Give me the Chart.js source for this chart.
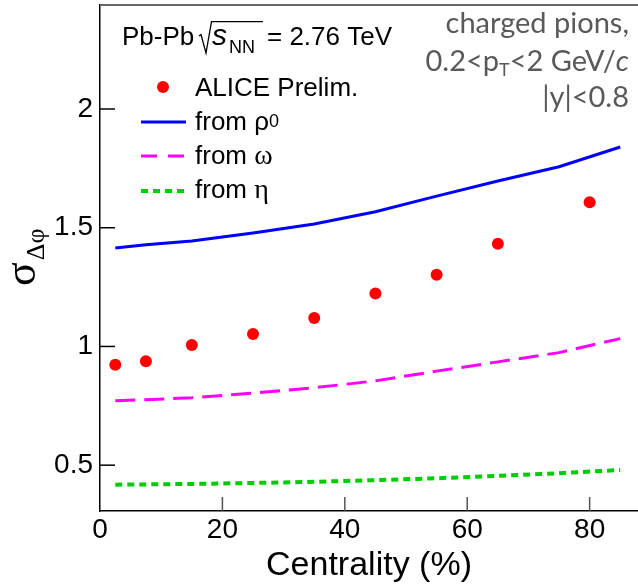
<!DOCTYPE html>
<html>
<head>
<meta charset="utf-8">
<script src="https://cdn.jsdelivr.net/npm/chart.js@4/dist/chart.umd.min.js"></script>
<style>
html,body{margin:0;padding:0;background:#fff}
</style>
</head>
<body>
<canvas id="c" width="638" height="586"></canvas>
<script>
// data
const centrality = [2.5, 7.5, 15, 25, 35, 45, 55, 65, 80];
const alicePrelim = [0.923, 0.938, 1.006, 1.052, 1.12, 1.223, 1.302, 1.433, 1.607];

const modelCent = [2.5, 7.5, 15, 25, 35, 45, 55, 65, 75, 85];
const fromRho = [1.415, 1.428, 1.444, 1.478, 1.516, 1.567, 1.633, 1.697, 1.757, 1.84];
const fromOmega = [0.771, 0.776, 0.784, 0.804, 0.826, 0.855, 0.896, 0.935, 0.974, 1.033];
const fromEta = [0.418, 0.419, 0.421, 0.425, 0.43, 0.437, 0.445, 0.455, 0.466, 0.48];

const xTicks = [0, 20, 40, 60, 80];
const yTicks = [0.5, 1, 1.5, 2];

const SANS = '"Liberation Sans", Arial, Helvetica, sans-serif';
const SERIF = '"Liberation Serif", "Times New Roman", serif';
const NOTE = 'Lato, "Open Sans", sans-serif';

function pts(xs, ys){
  return xs.map((x,i) => ({x:x, y:ys[i]}));
}

// draw a row of text pieces [text, font, dy] starting at x
function runs(ctx, parts, x, y, alignRight){
  let w = 0;
  parts.forEach(p => { ctx.font = p[1]; w += ctx.measureText(p[0]).width; });
  let cx = alignRight ? x - w : x;
  parts.forEach(p => {
    ctx.font = p[1];
    ctx.fillText(p[0], cx, y + (p[2] || 0));
    cx += ctx.measureText(p[0]).width;
  });
}

const extras = {
  id: 'extras',
  afterDraw(chart){
    const ctx = chart.ctx, a = chart.chartArea;
    const xs = chart.scales.x, ys = chart.scales.y;
    ctx.save();

    // top frame line
    ctx.strokeStyle = '#666';
    ctx.lineWidth = 2;
    ctx.beginPath();
    ctx.moveTo(a.left, a.top);
    ctx.lineTo(a.right, a.top);
    ctx.stroke();

    // inward tick marks
    ctx.lineWidth = 1.5;
    ctx.strokeStyle = '#000';
    yTicks.forEach(v => {
      const y = ys.getPixelForValue(v);
      ctx.beginPath(); ctx.moveTo(a.left, y); ctx.lineTo(a.left + 15, y); ctx.stroke();
    });
    ctx.strokeStyle = '#555';
    xTicks.slice(1).forEach(v => {
      const x = xs.getPixelForValue(v);
      ctx.beginPath(); ctx.moveTo(x, a.bottom); ctx.lineTo(x, a.bottom - 14); ctx.stroke();
    });

    // y axis title sigma_{Delta phi}
    ctx.fillStyle = '#000';
    ctx.textBaseline = 'alphabetic';
    ctx.textAlign = 'left';
    ctx.save();
    ctx.translate(35, 286);
    ctx.rotate(-Math.PI/2);
    ctx.font = '44px ' + SERIF;
    ctx.fillText('σ', 0, 0);
    const sw = ctx.measureText('σ').width;
    ctx.font = '26px ' + SERIF;
    ctx.fillText('Δφ', sw + 2, 9);
    ctx.restore();

    // system label
    const base = 45;
    ctx.font = '26px ' + SANS;
    ctx.fillText('Pb-Pb', 122, base);
    ctx.lineWidth = 1.3;
    ctx.strokeStyle = '#000';
    ctx.beginPath();
    ctx.moveTo(199, 36); ctx.lineTo(201, 34.5);
    ctx.lineTo(206, 53); ctx.lineTo(211.5, 21.7); ctx.lineTo(263, 21.7);
    ctx.stroke();
    ctx.font = 'italic 30px ' + SANS;
    ctx.fillText('s', 212, base);
    const sx = 212 + ctx.measureText('s').width;
    ctx.font = '18px ' + SANS;
    ctx.fillText('NN', sx + 2, base + 7.5);
    ctx.font = '26px ' + SANS;
    ctx.fillText('= 2.76 TeV', 267, base);

    // note on the right
    ctx.fillStyle = '#595959';
    const R = 629;
    runs(ctx, [['charged pions,', '29px ' + NOTE]], R, 33, true);
    runs(ctx, [['0.2<p', '29px ' + NOTE], ['T', '18px ' + NOTE, 5], ['<2 GeV/', '29px ' + NOTE], ['c', 'italic 29px ' + NOTE]], R, 71, true);
    runs(ctx, [['|y|<0.8', '29px ' + NOTE]], R, 107, true);

    // legend
    ctx.fillStyle = '#ff0000';
    ctx.beginPath(); ctx.arc(163, 87, 6, 0, Math.PI*2); ctx.fill();
    ctx.fillStyle = '#000';
    ctx.font = '26px ' + SANS;
    ctx.fillText('ALICE Prelim.', 195, 96);

    const legLine = (y, color, width, dash) => {
      ctx.strokeStyle = color; ctx.lineWidth = width; ctx.setLineDash(dash);
      ctx.beginPath(); ctx.moveTo(141, y); ctx.lineTo(186, y); ctx.stroke();
      ctx.setLineDash([]);
    };
    legLine(122, '#0000ff', 3, []);
    legLine(156, '#ff00ff', 3, [16, 11]);
    legLine(191, '#00cc00', 4, [7, 5]);

    runs(ctx, [['from ', '26px ' + SANS], ['ρ', '26px ' + SANS], ['0', '18px ' + SANS, -3]], 195, 130, false);
    runs(ctx, [['from ', '26px ' + SANS], ['ω', '28px ' + SERIF]], 195, 164, false);
    runs(ctx, [['from ', '26px ' + SANS], ['η', '28px ' + SERIF]], 195, 198, false);

    ctx.restore();
  }
};

new Chart(document.getElementById('c'), {
  type: 'line',
  data: {
    datasets: [
      {
        label: 'ALICE Prelim.',
        type: 'scatter',
        data: pts(centrality, alicePrelim),
        pointRadius: 6,
        pointBackgroundColor: '#ff0000',
        pointBorderWidth: 0,
        showLine: false,
        order: 0
      },
      {
        label: 'from rho0',
        data: pts(modelCent, fromRho),
        borderColor: '#0000ff',
        borderWidth: 3,
        pointRadius: 0,
        tension: 0,
        order: 1
      },
      {
        label: 'from omega',
        data: pts(modelCent, fromOmega),
        borderColor: '#ff00ff',
        borderWidth: 3,
        borderDash: [20, 9],
        pointRadius: 0,
        tension: 0,
        order: 2
      },
      {
        label: 'from eta',
        data: pts(modelCent, fromEta),
        borderColor: '#00cc00',
        borderWidth: 4,
        borderDash: [7, 5],
        pointRadius: 0,
        tension: 0,
        order: 3
      }
    ]
  },
  options: {
    responsive: false,
    animation: false,
    devicePixelRatio: 1,
    layout: {autoPadding: false, padding: {top: 5, left: 0, right: 0, bottom: 0}},
    plugins: {legend: {display: false}, tooltip: {enabled: false}},
    scales: {
      x: {
        type: 'linear',
        min: 0,
        max: 87.9,
        afterBuildTicks: s => { s.ticks = xTicks.map(v => ({value: v})); },
        afterFit: s => { s.height = 75; s.paddingLeft = 0; s.paddingRight = 0; },
        grid: {display: false, drawTicks: false},
        border: {display: true, color: '#000', width: 1.5},
        ticks: {
          color: '#000',
          font: {family: SANS, size: 28},
          padding: 2,
          maxRotation: 0,
          autoSkip: false,
          callback: v => String(v)
        },
        title: {
          display: true,
          text: 'Centrality (%)',
          color: '#000',
          font: {family: SANS, size: 34},
          padding: {top: 0, bottom: 0}
        }
      },
      y: {
        type: 'linear',
        min: 0.307,
        max: 2.438,
        afterBuildTicks: s => { s.ticks = yTicks.map(v => ({value: v})); },
        afterFit: s => { s.width = 100; s.paddingTop = 0; s.paddingBottom = 0; },
        grid: {display: false, drawTicks: false},
        border: {display: true, color: '#000', width: 1.5},
        ticks: {
          color: '#000',
          font: {family: SANS, size: 28},
          padding: 7,
          autoSkip: false,
          callback: v => String(v)
        }
      }
    }
  },
  plugins: [extras]
});
</script>
</body>
</html>
